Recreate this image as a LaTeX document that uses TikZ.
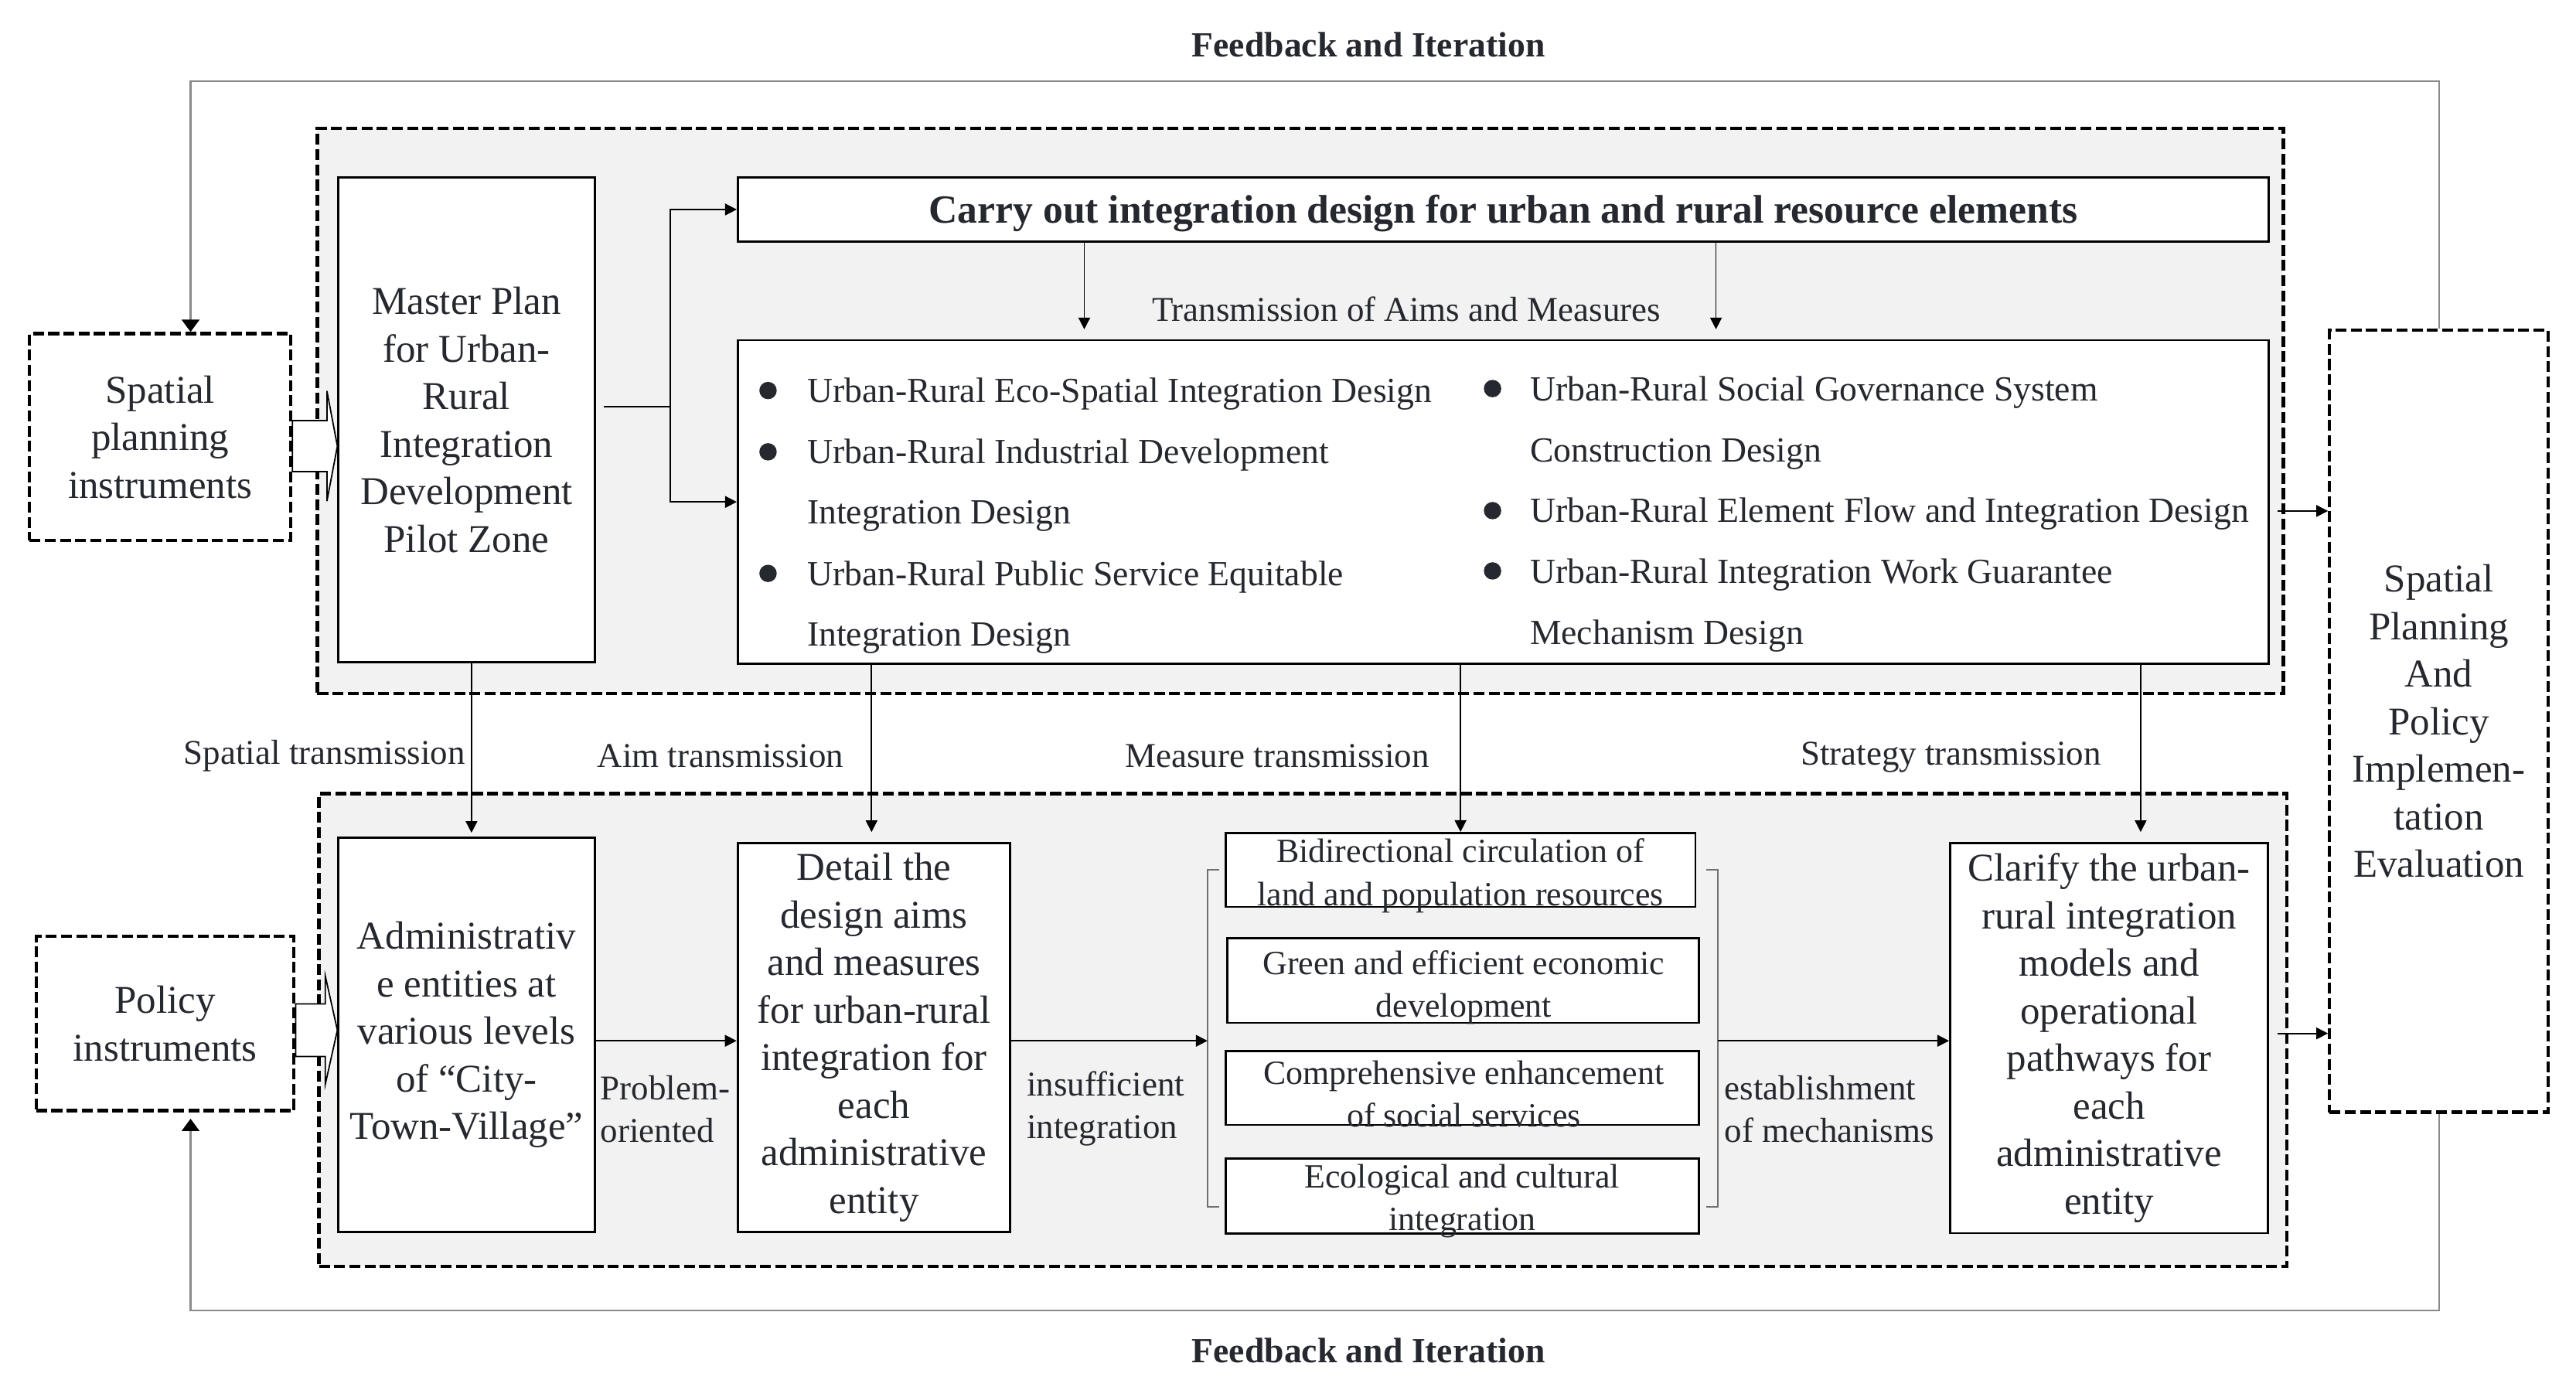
\documentclass[tikz,border=0pt]{standalone}
\usepackage{fontspec}
\setmainfont{Liberation Serif}
\usetikzlibrary{arrows.meta,calc}
\definecolor{txt}{HTML}{25282E}
\definecolor{contfill}{HTML}{F2F2F2}
\definecolor{fbgray}{HTML}{8A8A8A}
\definecolor{brkgray}{HTML}{707070}
\newcommand{\fsmain}{\fontsize{14.5}{17.5}\selectfont}
\newcommand{\fssmall}{\fontsize{12.5}{15.7}\selectfont}
\newcommand{\fslab}{\fontsize{12.8}{15.7}\selectfont}
\newcommand{\fsbul}{\fontsize{13}{15}\selectfont}
\begin{document}
\begin{tikzpicture}[x=0.02125cm,y=-0.02125cm,
  every node/.style={text=txt},
  sz/.style 2 args={minimum width=#1cm,minimum height=#2cm},
  box/.style={draw=black,line width=0.8pt,fill=white,inner sep=0pt,align=center,font=\fsmain},
  dbox/.style={draw=black,line width=1.2pt,dash pattern=on 4pt off 1.6pt,fill=white,inner sep=0pt,align=center,font=\fsmain},
  cont/.style={draw=black,line width=1.2pt,dash pattern=on 4pt off 1.6pt,fill=contfill,inner sep=0pt},
  sbox/.style={draw=black,line width=0.8pt,fill=white,inner sep=0pt},
  stext/.style={font=\fssmall,align=center,inner sep=0pt},
  lab/.style={font=\fslab,inner sep=0pt},
  bul/.style={font=\fsbul,inner sep=0pt,anchor=base west},
  conn/.style={draw=black,line width=0.5pt},
  arr/.style={conn,-{Triangle[length=4.3pt,width=4.3pt]}},
  fb/.style={draw=fbgray,line width=0.6pt},
  fbarr/.style={fb,-{Triangle[length=4.5pt,width=6.5pt,color=black]}},
  blk/.style={draw=black,line width=0.5pt,fill=white},
  brk/.style={draw=brkgray,line width=0.5pt},
  dot/.style={circle,fill=txt,inner sep=0pt,minimum size=6.4pt},
  fbtitle/.style={font=\fontsize{13}{15}\selectfont\bfseries,inner sep=0pt},
]
\useasboundingbox (0,0) rectangle (1568,844);

% containers
\node[cont,sz={25.436}{7.31}] (topc) at (791.5,250) {};
\node[cont,sz={25.4575}{6.12}] (botc) at (793,627) {};

% outer boxes
\node[dbox,sz={3.379}{2.678}] (spatial) at (97.5,266) {Spatial\\planning\\instruments};
\node[dbox,sz={3.336}{2.253}] (policy) at (100.5,623) {Policy\\instruments};
\node[dbox,sz={2.826}{10.115}] (eval) at (1484.5,439) {Spatial\\Planning\\And\\Policy\\Implemen-\\tation\\Evaluation};

% top group
\node[box,sz={3.315}{6.269}] (master) at (284,255.5) {Master Plan\\for Urban-\\Rural\\Integration\\Development\\Pilot Zone};
\node[box,sz={19.805}{0.829},font=\fontsize{14.7}{17}\selectfont\bfseries,text height=10pt,text depth=0pt] (carry) at (915,127.5) {Carry out integration design for urban and rural resource elements};
\node[box,sz={19.805}{4.186}] (bullets) at (915,305.5) {};

\node[dot] (d1) at (467.5,237.7) {};
\node[dot] (d2) at (467.5,275) {};
\node[dot] (d3) at (467.5,349) {};
\node[dot] (d4) at (908.5,236.5) {};
\node[dot] (d5) at (908.5,310.8) {};
\node[dot] (d6) at (908.5,347.5) {};

\node[bul] (l1) at (491,245) {Urban-Rural Eco-Spatial Integration Design};
\node[bul] (l2) at (491,282) {Urban-Rural Industrial Development};
\node[bul] (l3) at (491,319) {Integration Design};
\node[bul] (l4) at (491,356.5) {Urban-Rural Public Service Equitable};
\node[bul] (l5) at (491,393) {Integration Design};
\node[bul] (r1) at (931,244) {Urban-Rural Social Governance System};
\node[bul] (r2) at (931,281) {Construction Design};
\node[bul] (r3) at (931,318) {Urban-Rural Element Flow and Integration Design};
\node[bul] (r4) at (931,355) {Urban-Rural Integration Work Guarantee};
\node[bul] (r5) at (931,392) {Mechanism Design};

\node[lab] (tam) at (856,188) {Transmission of Aims and Measures};

% bottom group
\node[box,sz={3.315}{5.1}] (admin) at (284,630) {Administrativ\\e entities at\\various levels\\of “City-\\Town-Village”};
\node[box,sz={3.5275}{5.036}] (detail) at (532,631.5) {Detail the\\design aims\\and measures\\for urban-rural\\integration for\\each\\administrative\\entity};
\node[sbox,sz={6.0775}{0.956}] (b1) at (889,529.5) {};
\node[sbox,sz={6.099}{1.0965}] (b2) at (890.5,596.8) {};
\node[sbox,sz={6.12}{0.958}] (b3) at (890,662.15) {};
\node[sbox,sz={6.12}{0.9775}] (b4) at (890,728) {};
\node[stext] (t1) at (889,533) {Bidirectional circulation of\\land and population resources};
\node[stext] (t2) at (891,601) {Green and efficient economic\\development};
\node[stext] (t3) at (891,666) {Comprehensive enhancement\\of social services};
\node[stext] (t4) at (890,731) {Ecological and cultural\\integration};
\node[box,sz={4.114}{5.049}] (clarify) at (1283.8,631.8) {Clarify the urban-\\rural integration\\models and\\operational\\pathways for\\each\\administrative\\entity};

% brackets
\coordinate (lbt) at (742,529.5);
\coordinate (lbb) at (742,734.6);
\coordinate (rbt) at (1038.6,529.5);
\coordinate (rbb) at (1038.6,734.6);
\coordinate (lbm) at (735,633.5);
\coordinate (rbm) at (1045.7,633.5);
\draw[brk] (lbt) -- (735,529.5) -- (735,734.6) -- (lbb);
\draw[brk] (rbt) -- (1045.7,529.5) -- (1045.7,734.6) -- (rbb);

% block arrows
\draw[blk] (spatial.east |- 0,256) -- (199,256) -- (199,238) -- (master.west |- 0,271.5) -- (199,305) -- (199,287) -- (spatial.east |- 0,287) -- cycle;
\draw[blk] (policy.east |- 0,611) -- (198,611) -- (198,594) -- (admin.west |- 0,627) -- (198,660) -- (198,643) -- (policy.east |- 0,643) -- cycle;

% top connectors
\coordinate (mj) at (408,247.5);
\draw[conn,shorten <=3pt] (master.east |- mj) -- (mj);
\draw[arr] (mj) |- (carry.west);
\draw[arr] (mj) |- (bullets.west);
\draw[arr,shorten >=3.6pt] (carry.south -| 660,0) -- (bullets.north -| 660,0);
\draw[arr,shorten >=3.6pt] (carry.south -| 1044.5,0) -- (bullets.north -| 1044.5,0);
\draw[arr,shorten <=3pt] (bullets.east |- 0,311) -- (eval.west |- 0,311);

% transmission connectors
\draw[arr,shorten >=1.5pt] (master.south -| 287,0) -- (admin.north -| 287,0);
\draw[arr,shorten >=3.6pt] (bullets.south -| 530.5,0) -- (detail.north -| 530.5,0);
\draw[arr] (bullets.south -| 889,0) -- (b1.north -| 889,0);
\draw[arr,shorten >=3.6pt] (bullets.south -| 1303,0) -- (clarify.north -| 1303,0);
\node[lab] (lsp) at (197.5,460) {Spatial transmission};
\node[lab] (lai) at (438.5,460) {Aim transmission};
\node[lab] (lme) at (777.5,460) {Measure transmission};
\node[lab] (lst) at (1187.5,461) {Strategy transmission};

% bottom connectors
\draw[arr] (admin.east |- lbm) -- (detail.west |- lbm);
\draw[arr] (detail.east |- lbm) -- (lbm);
\draw[arr] (rbm) -- (clarify.west |- rbm);
\draw[arr,shorten <=3pt] (clarify.east |- 0,629) -- (eval.west |- 0,629);
\node[lab,align=left] (lpo) at (405,675) {Problem-\\oriented};
\node[lab,align=left] (lin) at (673,675) {insufficient\\integration};
\node[lab,align=left] (les) at (1113.5,675) {establishment\\of mechanisms};

% feedback loops
\coordinate (fbA) at (116,49.5);
\coordinate (fbB) at (116,797.5);
\draw[fbarr] (eval.north) |- (fbA) -- (spatial.north -| fbA);
\draw[fbarr,shorten >=2.4pt] (eval.south) |- (fbB) -- (policy.south -| fbB);
\node[fbtitle] (fbt) at (833,27) {Feedback and Iteration};
\node[fbtitle] (fbb) at (833,822) {Feedback and Iteration};
\end{tikzpicture}
\end{document}
